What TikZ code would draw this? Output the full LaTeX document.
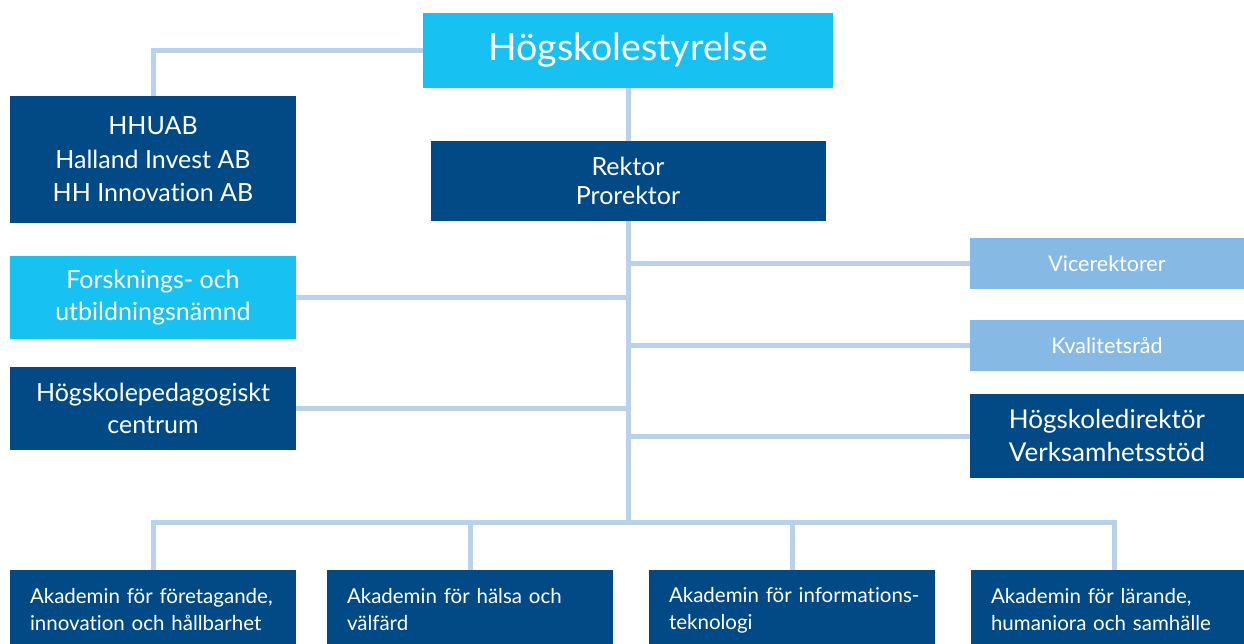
\documentclass[tikz,border=0pt]{standalone}
\usepackage{fontspec}
\setmainfont{Lato}[Ligatures=NoCommon]
\definecolor{cyanbox}{HTML}{17C1F1}
\definecolor{darkbox}{HTML}{024A86}
\definecolor{lightbox}{HTML}{86B9E3}
\definecolor{connc}{HTML}{B9D1EA}
\begin{document}
\begin{tikzpicture}[x=1pt,y=-1pt,
  conn/.style={draw=connc, line width=5pt},
  bx/.style={inner sep=0pt, text=white, align=center, anchor=center},
  dark/.style={bx, fill=darkbox},
  cyan/.style={bx, fill=cyanbox},
  light/.style={bx, fill=lightbox},
  akad/.style={dark, minimum width=286pt, minimum height=80pt, text width=246pt, inner xsep=20pt, align=left,
    font=\fontsize{20.5}{27}\selectfont}
]
\useasboundingbox (0,0) rectangle (1244,644);
\node[cyan, minimum width=410pt, minimum height=75pt, font=\fontsize{37.5}{44}\selectfont] (top) at (628,50.5) {Högskolestyrelse};
\node[dark, minimum width=286pt, minimum height=127pt, font=\fontsize{25}{33.5}\selectfont] (hh) at (153,159.5) {HHUAB\\Halland Invest AB\\HH Innovation AB};
\node[dark, minimum width=395pt, minimum height=80pt, font=\fontsize{25}{29}\selectfont] (rektor) at (628,181) {Rektor\\Prorektor};
\node[cyan, minimum width=286pt, minimum height=83pt, font=\fontsize{25}{32}\selectfont] (forsk) at (153,297.5) {Forsknings- och\\utbildningsnämnd};
\node[dark, minimum width=286pt, minimum height=83pt, font=\fontsize{25}{32}\selectfont] (hpc) at (153,408.5) {Högskolepedagogiskt\\centrum};
\node[light, minimum width=274pt, minimum height=51pt, font=\fontsize{21.5}{24}\selectfont] (vice) at (1107,263.5) {Vicerektorer};
\node[light, minimum width=274pt, minimum height=51pt, font=\fontsize{21.5}{24}\selectfont] (kval) at (1107,345.5) {Kvalitetsråd};
\node[dark, minimum width=274pt, minimum height=84pt, font=\fontsize{26}{33}\selectfont] (hd) at (1107,436) {Högskoledirektör\\Verksamhetsstöd};
\node[akad] (a1) at (153,610) {\mbox{Akademin för företagande,}\\\mbox{innovation och hållbarhet}};
\node[akad] (a2) at (470,610) {\mbox{Akademin för hälsa och}\\\mbox{välfärd}};
\node[akad] (a3) at (792,610) {\mbox{Akademin för informations-}\\\mbox{teknologi}};
\node[akad] (a4) at (1114,610) {\mbox{Akademin för lärande,}\\\mbox{humaniora och samhälle}};
\coordinate (bus) at (628,522);
\draw[conn] (top.west) -| (hh.north);
\draw[conn] (top.south) -- (rektor.north);
\draw[conn] (rektor.south) -- (bus);
\draw[conn] (vice.west) -- (vice.west -| bus);
\draw[conn] (kval.west) -- (kval.west -| bus);
\draw[conn] (hd.west) -- (hd.west -| bus);
\draw[conn] (forsk.east) -- (forsk.east -| bus);
\draw[conn] (hpc.east) -- (hpc.east -| bus);
\draw[conn] (a1.north) -- (a1.north |- bus) -- (a4.north |- bus) -- (a4.north);
\draw[conn] (a2.north) -- (a2.north |- bus);
\draw[conn] (a3.north) -- (a3.north |- bus);
\end{tikzpicture}
\end{document}
